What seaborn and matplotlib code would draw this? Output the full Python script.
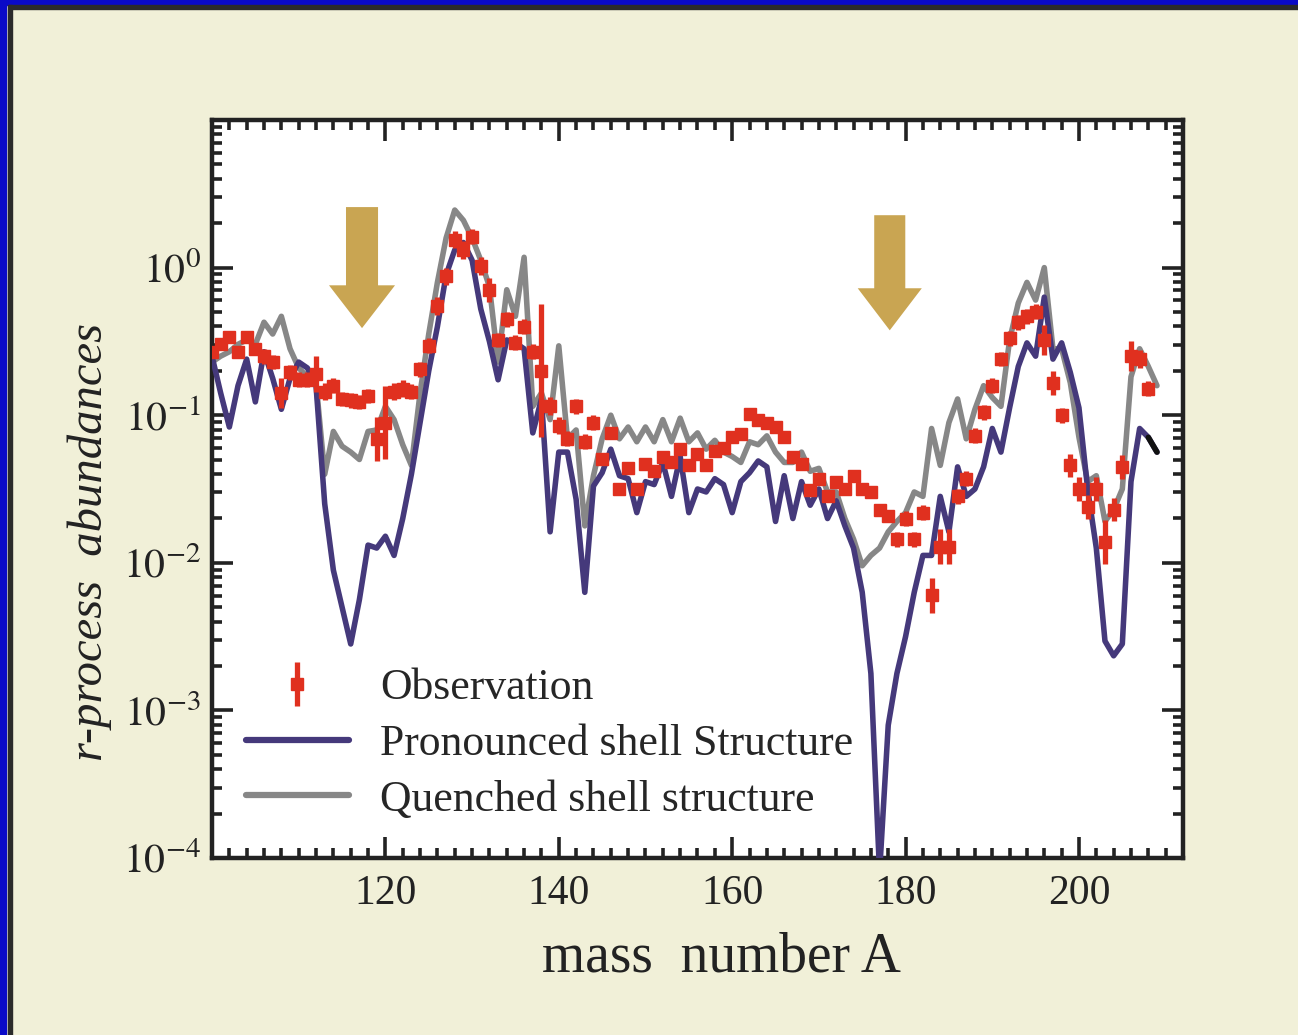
import numpy as np
import pandas as pd
import seaborn as sns
import matplotlib
matplotlib.use("Agg")
import matplotlib.pyplot as plt
from matplotlib.patches import FancyArrow, Rectangle
from matplotlib.lines import Line2D
from matplotlib.ticker import MultipleLocator, LogLocator, NullFormatter

# ---------------- data (log10 of abundance) ----------------
mass_A = list(range(100, 210))

pronounced_log = [
    -0.60, -0.85, -1.08, -0.80, -0.62, -0.91, -0.57, -0.75, -0.96, -0.75,   # 100-109
    -0.64, -0.68, -0.80, -1.60, -2.05, -2.30, -2.55, -2.25, -1.88, -1.90,   # 110-119
    -1.82, -1.95, -1.70, -1.40, -1.05, -0.70, -0.40, -0.05, 0.12, 0.17,     # 120-129
    0.05, -0.28, -0.50, -0.76, -0.49, -0.51, -0.55, -1.12, -0.89, -1.79,    # 130-139
    -1.25, -1.25, -1.57, -2.20, -1.48, -1.39, -1.23, -1.41, -1.43, -1.66,   # 140-149
    -1.45, -1.47, -1.32, -1.55, -1.28, -1.66, -1.50, -1.52, -1.43, -1.47,   # 150-159
    -1.66, -1.45, -1.39, -1.31, -1.35, -1.72, -1.41, -1.70, -1.45, -1.61,   # 160-169
    -1.50, -1.70, -1.58, -1.75, -1.90, -2.20, -2.75, -4.10, -3.10, -2.75,   # 170-179
    -2.50, -2.20, -1.95, -1.95, -1.55, -1.79, -1.35, -1.55, -1.50, -1.35,   # 180-189
    -1.09, -1.25, -0.95, -0.67, -0.51, -0.60, -0.20, -0.62, -0.51, -0.71,   # 190-199
    -0.95, -1.50, -1.90, -2.53, -2.63, -2.55, -1.45, -1.09, -1.15, -1.25,   # 200-209
]

quenched_log = [
    -0.64, -0.60, -0.57, -0.52, -0.49, -0.52, -0.37, -0.45, -0.33, -0.55,   # 100-109
    -0.68, -0.74, -0.78, -1.40, -1.11, -1.21, -1.25, -1.30, -1.11, -1.10,   # 110-119
    -0.94, -1.03, -1.20, -1.34, -0.85, -0.45, -0.10, 0.20, 0.39, 0.32,      # 120-129
    0.20, 0.05, -0.13, -0.64, -0.15, -0.33, 0.07, -0.94, -0.85, -1.03,      # 130-139
    -0.53, -1.16, -1.10, -1.75, -1.41, -1.16, -1.00, -1.16, -1.08, -1.18,   # 140-149
    -1.08, -1.18, -1.03, -1.18, -1.02, -1.18, -1.12, -1.23, -1.17, -1.25,   # 150-159
    -1.28, -1.32, -1.18, -1.20, -1.14, -1.25, -1.32, -1.32, -1.25, -1.38,   # 160-169
    -1.36, -1.52, -1.52, -1.70, -1.84, -2.02, -1.95, -1.90, -1.79, -1.72,   # 170-179
    -1.66, -1.52, -1.55, -1.09, -1.34, -1.05, -0.89, -1.16, -0.96, -0.80,   # 180-189
    -0.88, -0.94, -0.49, -0.24, -0.10, -0.22, 0.00, -0.55, -0.55, -0.78,    # 190-199
    -1.15, -1.45, -1.41, -1.72, -1.64, -1.50, -0.74, -0.55, -0.67, -0.80,   # 200-209
]

obs_A = [100, 101, 102, 103, 104, 105, 106, 107, 108, 109,
         110, 111, 112, 113, 114, 115, 116, 117, 118, 119,
         120, 121, 122, 123, 124, 125, 126, 127, 128, 129,
         130, 131, 132, 133, 134, 135, 136, 137, 138, 139,
         140, 141, 142, 143, 144, 145, 146, 147, 148, 149,
         150, 151, 152, 153, 154, 155, 156, 157, 158, 159,
         160, 161, 162, 163, 164, 165, 166, 167, 168, 169,
         170, 171, 172, 173, 174, 175, 176, 177, 178, 179,
         180, 181, 182, 183, 184, 185, 186, 187, 188, 189,
         190, 191, 192, 193, 194, 195, 196, 197, 198, 199,
         200, 201, 202, 203, 204, 205, 206, 207, 208]
obs_log = [-0.57, -0.52, -0.47, -0.57, -0.47, -0.55, -0.60, -0.64, -0.85, -0.71,
           -0.76, -0.76, -0.72, -0.84, -0.80, -0.89, -0.90, -0.91, -0.87, -1.16,
           -1.05, -0.84, -0.82, -0.84, -0.69, -0.53, -0.26, -0.06, 0.19, 0.12,
           0.21, 0.01, -0.15, -0.49, -0.35, -0.51, -0.40, -0.57, -0.70, -0.94,
           -1.07, -1.16, -0.94, -1.18, -1.05, -1.30, -1.12, -1.50, -1.36, -1.50,
           -1.33, -1.38, -1.28, -1.32, -1.23, -1.34, -1.26, -1.34, -1.24, -1.22,
           -1.15, -1.13, -0.99, -1.03, -1.05, -1.08, -1.15, -1.28, -1.33, -1.51,
           -1.43, -1.55, -1.45, -1.50, -1.41, -1.50, -1.52, -1.64, -1.68, -1.84,
           -1.70, -1.84, -1.66, -2.22, -1.89, -1.89, -1.55, -1.43, -1.14, -0.98,
           -0.80, -0.62, -0.48, -0.37, -0.33, -0.30, -0.49, -0.78, -1.00, -1.34,
           -1.50, -1.62, -1.50, -1.86, -1.64, -1.35, -0.60, -0.62, -0.82]
obs_err_dex = [0.04, 0.04, 0.04, 0.04, 0.04, 0.04, 0.05, 0.05, 0.10, 0.05,
               0.05, 0.05, 0.12, 0.06, 0.05, 0.05, 0.05, 0.05, 0.05, 0.15,
               0.25, 0.06, 0.06, 0.05, 0.05, 0.05, 0.06, 0.06, 0.06, 0.06,
               0.05, 0.06, 0.08, 0.05, 0.05, 0.05, 0.05, 0.05, 0.45, 0.06,
               0.06, 0.05, 0.05, 0.05, 0.05, 0.04, 0.04, 0.04, 0.04, 0.04,
               0.04, 0.04, 0.04, 0.04, 0.04, 0.04, 0.04, 0.04, 0.04, 0.04,
               0.04, 0.04, 0.04, 0.04, 0.04, 0.04, 0.04, 0.04, 0.04, 0.04,
               0.04, 0.04, 0.04, 0.04, 0.04, 0.04, 0.04, 0.04, 0.04, 0.05,
               0.05, 0.05, 0.05, 0.12, 0.12, 0.12, 0.05, 0.05, 0.05, 0.05,
               0.05, 0.05, 0.05, 0.05, 0.05, 0.05, 0.10, 0.08, 0.05, 0.08,
               0.08, 0.08, 0.08, 0.15, 0.08, 0.08, 0.10, 0.06, 0.05]

legend_labels = ["Observation", "Pronounced shell Structure", "Quenched shell structure"]
x_ticks = [120, 140, 160, 180, 200]
y_ticks = [1e-4, 1e-3, 1e-2, 1e-1, 1e0]
y_ticklabels = [r"$10^{-4}$", r"$10^{-3}$", r"$10^{-2}$", r"$10^{-1}$", r"$10^{0}$"]

# ---------------- style ----------------
sns.set_theme(style="ticks")
plt.rcParams["font.family"] = ["Liberation Serif", "DejaVu Serif"]
plt.rcParams["mathtext.fontset"] = "stix"

BG = "#f1f0d8"
BLUE = "#45397b"
GRAY = "#878787"
RED = "#e0301f"
GOLD = "#c9a552"
INK = "#222222"

fig = plt.figure(figsize=(12.98, 10.35), dpi=100, facecolor=BG)
ax = fig.add_axes([212 / 1298, 1 - 858 / 1035, 971 / 1298, 738 / 1035])
ax.set_facecolor("white")

lines_df = pd.DataFrame({
    "A": mass_A,
    "pronounced": np.power(10.0, pronounced_log),
    "quenched": np.power(10.0, quenched_log),
})

sns.lineplot(data=lines_df, x="A", y="quenched", ax=ax, color=GRAY, lw=4.0,
             sort=False, estimator=None, zorder=2)
sns.lineplot(data=lines_df, x="A", y="pronounced", ax=ax, color=BLUE, lw=4.0,
             sort=False, estimator=None, zorder=3)
tail = lines_df[lines_df["A"] >= 208]
sns.lineplot(data=tail, x="A", y="pronounced", ax=ax, color="#111111", lw=4.0,
             sort=False, estimator=None, zorder=3.5)

obs_val = np.power(10.0, obs_log)
err = np.array(obs_err_dex)
lo = obs_val - np.power(10.0, np.array(obs_log) - err)
hi = np.power(10.0, np.array(obs_log) + err) - obs_val
obs = ax.errorbar(obs_A, obs_val, yerr=[lo, hi], fmt="s", color=RED, ms=9,
                  mec=RED, ecolor=RED, elinewidth=3.8, capsize=0, zorder=4)

ax.set_yscale("log")
ax.set_xlim(100, 212)
ax.set_ylim(1e-4, 10)

# ticks
ax.set_xticks(x_ticks)
ax.xaxis.set_minor_locator(MultipleLocator(2))
ax.set_yticks(y_ticks)
ax.set_yticklabels(y_ticklabels)
ax.yaxis.set_minor_locator(LogLocator(base=10, subs=np.arange(2, 10)))
ax.yaxis.set_minor_formatter(NullFormatter())
ax.tick_params(which="both", direction="in", top=True, right=True,
               color=INK, width=2.6, labelsize=30, labelcolor=INK)
ax.tick_params(which="major", length=15)
ax.tick_params(which="minor", length=7)
ax.tick_params(axis="x", which="major", pad=12)
ax.tick_params(axis="y", which="major", pad=8)
for s in ax.spines.values():
    s.set_linewidth(3.2)
    s.set_color(INK)

ax.set_xlabel("mass  number A", fontsize=40, color=INK)
ax.set_ylabel("r-process  abundances", fontsize=35, style="italic", color=INK)
ax.xaxis.set_label_coords(0.525, -0.10)
ax.yaxis.set_label_coords(-0.103, 0.428)

# gold arrows (axes coordinates)
for xc, ytop, ytip, yhead, w, hw in [(0.1545, 0.882, 0.718, 0.776, 0.033, 0.068),
                                     (0.698, 0.871, 0.715, 0.772, 0.032, 0.066)]:
    ax.add_patch(FancyArrow(xc, ytop, 0, ytip - ytop, width=w, head_width=hw,
                            head_length=yhead - ytip, length_includes_head=True,
                            transform=ax.transAxes, color=GOLD, lw=0, zorder=5))

# legend
handles = [obs,
           Line2D([], [], color=BLUE, lw=4.5),
           Line2D([], [], color=GRAY, lw=4.5)]
ax.legend(handles, legend_labels, loc="lower left", bbox_to_anchor=(0.035, 0.052),
          frameon=False, fontsize=31.5, handlelength=2.35, handletextpad=0.72,
          labelspacing=0.36, borderpad=0, borderaxespad=0)

# frame of the slide
fig.patches.append(Rectangle((0, 1 - 5 / 1035), 1, 5 / 1035, transform=fig.transFigure,
                             color="#0a0ac8", zorder=10))
fig.patches.append(Rectangle((9 / 1298, 1 - 9 / 1035), 1, 4 / 1035, transform=fig.transFigure,
                             color="#2b2b2b", zorder=10))
fig.patches.append(Rectangle((0, 0), 6 / 1298, 1, transform=fig.transFigure,
                             color="#0a0ac8", zorder=10))
fig.patches.append(Rectangle((8 / 1298, 0), 4 / 1298, 1 - 5 / 1035, transform=fig.transFigure,
                             color="#2b2b2b", zorder=10))

fig.savefig("out.png", dpi=100, facecolor=BG)
